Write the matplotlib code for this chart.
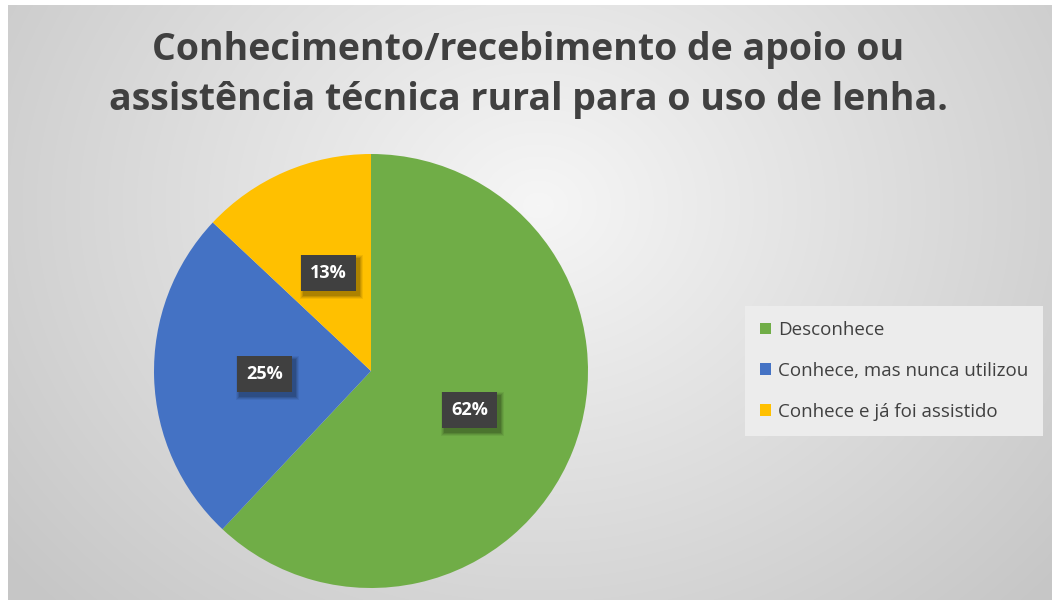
import matplotlib
matplotlib.use("Agg")
import matplotlib.pyplot as plt
from matplotlib.patches import Patch, Rectangle
from matplotlib.transforms import IdentityTransform
import numpy as np

# ---- data ----
categories = ["Desconhece", "Conhece, mas nunca utilizou", "Conhece e já foi assistido"]
shares = [62, 25, 13]
colors = ["#70ad47", "#4472c4", "#ffc000"]
title = "Conhecimento/recebimento de apoio ou\nassistência técnica rural para o uso de lenha."

W, H = 1052, 600
plt.rcParams["font.family"] = ["Open Sans", "DejaVu Sans"]
fig = plt.figure(figsize=(W / 100, H / 100), dpi=100, facecolor="white")

# radial gradient background (chart area leaves a thin white margin top/left)
bg = fig.add_axes([8 / W, 0, 1 - 8 / W, 1 - 5 / H])
yy, xx = np.mgrid[0:H - 5, 0:W - 8]
d = np.hypot((xx - 530) / 620, (yy - 200) / 520)
val = np.clip(0.965 - 0.17 * d, 0.78, 1)
bg.imshow(np.dstack([val, val, val]), aspect="auto", interpolation="bilinear")
bg.set_axis_off()

fig.text(0.502, 1 - 75 / H, title, ha="center", va="center", fontsize=27,
         weight="bold", color="#404040", linespacing=1.4)

# pie
R = 217
cx, cy = 371, 371
ax = fig.add_axes([(cx - R) / W, (H - cy - R) / H, 2 * R / W, 2 * R / H])
wedges, _, autotexts = ax.pie(shares, colors=colors, startangle=90, counterclock=False,
                              autopct="%d%%", pctdistance=0.49, radius=1,
                              wedgeprops=dict(linewidth=0))
ax.set_xlim(-1, 1); ax.set_ylim(-1, 1)
ax.set_aspect("auto")
for t in autotexts:
    t.set_color("white"); t.set_fontsize(13); t.set_weight("bold"); t.set_zorder(6)
    t.set_bbox(dict(boxstyle="square,pad=0.5", fc="#404040", ec="none"))

# soft drop shadow behind each label box
fig.canvas.draw()
for t in autotexts:
    bb = t.get_bbox_patch().get_window_extent()
    for k, a in ((4, 0.06), (3, 0.08), (2, 0.10), (1, 0.12)):
        ax.add_patch(Rectangle((bb.x0 + 3 - k, bb.y0 - 4 - k), bb.width + 2 * k, bb.height + 2 * k,
                               transform=IdentityTransform(), fc="black", ec="none",
                               alpha=a, zorder=4))

# legend
handles = [Patch(facecolor=c, edgecolor="none") for c in colors]
leg = fig.legend(handles, categories, loc="center left",
                 bbox_to_anchor=(745 / W, 1 - 371 / H), frameon=True, fancybox=False,
                 facecolor="#ececec", edgecolor="none", framealpha=1,
                 fontsize=13.5, handlelength=0.6, handleheight=0.6, handletextpad=0.35,
                 labelspacing=1.22, borderpad=0.8, borderaxespad=0, labelcolor="#404040")

fig.savefig("out.png", dpi=100, facecolor="white")
